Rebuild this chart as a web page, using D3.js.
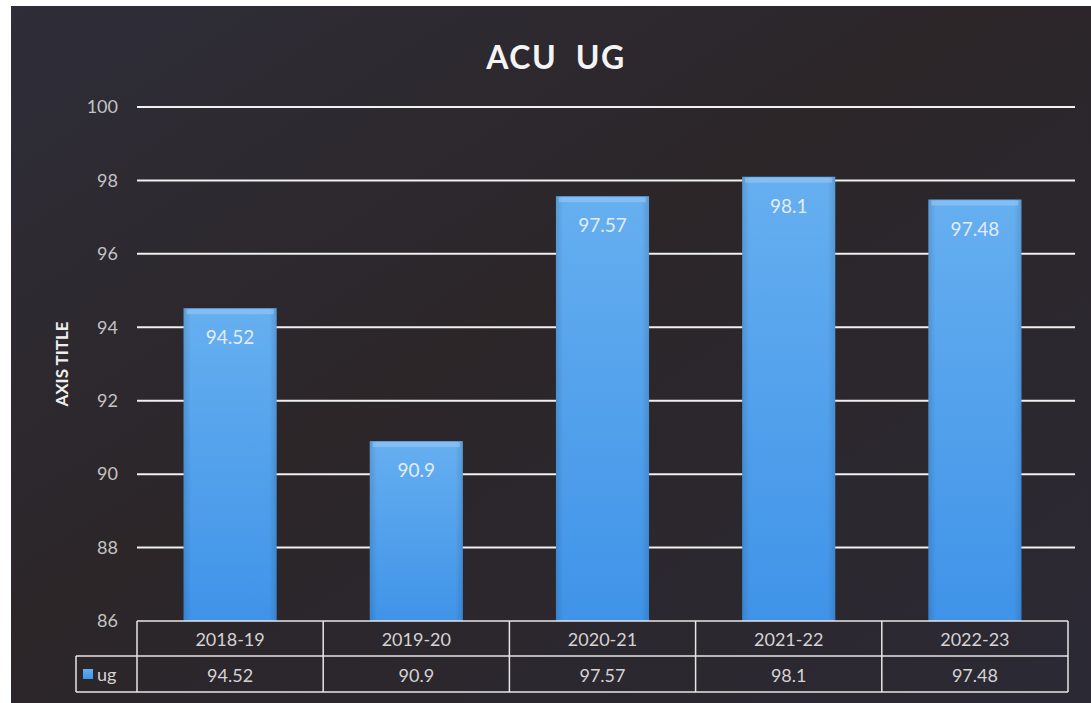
<!DOCTYPE html>
<html>
<head>
<meta charset="utf-8">
<script src="https://cdn.jsdelivr.net/npm/d3@7"></script>
<style>
  html, body { margin: 0; padding: 0; background: #fff; }
  svg { display: block; font-family: Lato, "Open Sans", sans-serif; }
</style>
</head>
<body>
<svg></svg>
<script>
// chart data
const years = ["2018-19", "2019-20", "2020-21", "2021-22", "2022-23"];
const ugValues = [94.52, 90.9, 97.57, 98.1, 97.48];
const yTicks = [86, 88, 90, 92, 94, 96, 98, 100];
const seriesName = "ug";

const W = 1091, H = 703;
const svg = d3.select("svg").attr("width", W).attr("height", H);

const defs = svg.append("defs");
const bg = defs.append("linearGradient").attr("id", "bg")
    .attr("x1", 0).attr("y1", 0).attr("x2", 1).attr("y2", 1);
bg.append("stop").attr("offset", "0%").attr("stop-color", "#2e2d38");
bg.append("stop").attr("offset", "45%").attr("stop-color", "#2c2629");
bg.append("stop").attr("offset", "100%").attr("stop-color", "#2b2934");

const barGrad = defs.append("linearGradient").attr("id", "bar")
    .attr("x1", 0).attr("y1", 0).attr("x2", 0).attr("y2", 1);
barGrad.append("stop").attr("offset", "0%").attr("stop-color", "#66aff0");
barGrad.append("stop").attr("offset", "100%").attr("stop-color", "#3f93e8");

const barSide = defs.append("linearGradient").attr("id", "barside")
    .attr("x1", 0).attr("y1", 0).attr("x2", 1).attr("y2", 0);
barSide.append("stop").attr("offset", "0%").attr("stop-color", "#000").attr("stop-opacity", 0.12);
barSide.append("stop").attr("offset", "8%").attr("stop-color", "#000").attr("stop-opacity", 0);
barSide.append("stop").attr("offset", "92%").attr("stop-color", "#000").attr("stop-opacity", 0);
barSide.append("stop").attr("offset", "100%").attr("stop-color", "#000").attr("stop-opacity", 0.12);

// background with thin white photo border on left/top
svg.append("rect").attr("x", 11).attr("y", 6).attr("width", W - 11).attr("height", H - 6)
    .attr("fill", "url(#bg)");

// scales
const x = d3.scaleBand().domain(years).range([137, 1068]).paddingInner(0.5).paddingOuter(0.25);
const y = d3.scaleLinear().domain([86, 100]).range([621, 107]);

// gridlines
svg.append("g").selectAll("line")
    .data(yTicks.filter(d => d > 86))
    .join("line")
    .attr("x1", 137).attr("x2", 1075)
    .attr("y1", d => y(d)).attr("y2", d => y(d))
    .attr("stroke", "#f0f0f0").attr("stroke-width", 2);

// y tick labels
const yAxis = d3.axisLeft(y).tickValues(yTicks).tickSize(0).tickPadding(0);
const yg = svg.append("g").attr("transform", "translate(118,0)").call(yAxis);
yg.select(".domain").remove();
yg.selectAll("text").attr("fill", "#c4c4c4").attr("font-size", 18)
    .attr("font-family", "Lato, sans-serif");

// axis title
svg.append("text")
    .attr("transform", `translate(68,${y(93)}) rotate(-90)`)
    .attr("text-anchor", "middle")
    .attr("fill", "#eeeeee").attr("font-size", 17).attr("font-weight", "bold")
    .text("AXIS TITLE");

// chart title
svg.append("text")
    .attr("x", 556).attr("y", 69)
    .attr("text-anchor", "middle")
    .attr("fill", "#f4f4f4").attr("font-size", 32).attr("font-weight", "bold")
    .attr("letter-spacing", 1.5)
    .style("white-space", "pre")
    .text("ACU  UG");

// bars
const data = years.map((yr, i) => ({ year: yr, value: ugValues[i] }));
const bars = svg.append("g").selectAll("g").data(data).join("g");
bars.append("rect")
    .attr("x", d => x(d.year)).attr("y", d => y(d.value))
    .attr("width", x.bandwidth()).attr("height", d => y(86) - y(d.value))
    .attr("fill", "url(#bar)");
bars.append("rect")
    .attr("x", d => x(d.year)).attr("y", d => y(d.value))
    .attr("width", x.bandwidth()).attr("height", d => y(86) - y(d.value))
    .attr("fill", "url(#barside)");
// bevel highlight on top
bars.append("rect")
    .attr("x", d => x(d.year) + 3).attr("y", d => y(d.value) + 1)
    .attr("width", x.bandwidth() - 6).attr("height", 5)
    .attr("fill", "#9ccbf6").attr("opacity", 0.55);
bars.append("text")
    .attr("x", d => x(d.year) + x.bandwidth() / 2)
    .attr("y", d => y(d.value) + 36)
    .attr("text-anchor", "middle")
    .attr("fill", "#e2ecf8").attr("font-size", 19)
    .text(d => d.value);

// data table
const rowTop = 621, rowMid = 656, rowBot = 692;
const tbl = svg.append("g").attr("stroke", "#e6e6e6").attr("stroke-width", 1.5).attr("fill", "none");
const step = x.step();
const left = x.range()[0], right = x.range()[1];
tbl.append("line").attr("x1", left).attr("x2", right).attr("y1", rowTop).attr("y2", rowTop);
tbl.append("line").attr("x1", 76).attr("x2", right).attr("y1", rowMid).attr("y2", rowMid);
tbl.append("line").attr("x1", 76).attr("x2", right).attr("y1", rowBot).attr("y2", rowBot);
tbl.append("line").attr("x1", 76).attr("x2", 76).attr("y1", rowMid).attr("y2", rowBot);
tbl.selectAll(".col").data(d3.range(years.length + 1)).join("line")
    .attr("x1", i => left + i * step).attr("x2", i => left + i * step)
    .attr("y1", rowTop).attr("y2", rowBot);

svg.append("g").selectAll("text").data(years).join("text")
    .attr("x", d => x(d) + x.bandwidth() / 2).attr("y", rowMid - 10)
    .attr("text-anchor", "middle").attr("fill", "#d4d4d4").attr("font-size", 18)
    .text(d => d);
svg.append("g").selectAll("text").data(data).join("text")
    .attr("x", d => x(d.year) + x.bandwidth() / 2).attr("y", rowBot - 10)
    .attr("text-anchor", "middle").attr("fill", "#d4d4d4").attr("font-size", 18)
    .text(d => d.value);

// legend key
svg.append("rect").attr("x", 83).attr("y", 669).attr("width", 10).attr("height", 10)
    .attr("fill", "url(#bar)");
svg.append("text").attr("x", 97).attr("y", rowBot - 11)
    .attr("fill", "#d4d4d4").attr("font-size", 18).text(seriesName);
</script>
</body>
</html>
